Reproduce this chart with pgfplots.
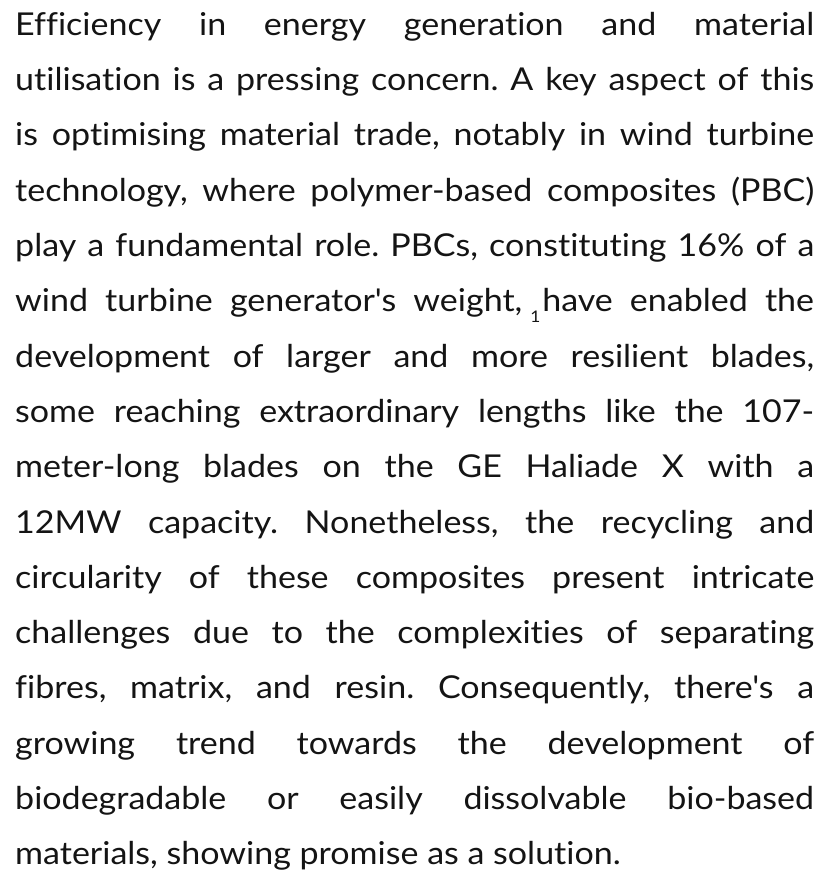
\documentclass[border=0pt]{standalone}
\usepackage{pgfplots}
\pgfplotsset{compat=1.18}
\usepackage{fontspec}
\newfontfamily\bodyfont[FakeStretch=1.08,Ligatures={NoCommon,NoRequired,NoContextual}]{Lato}
\begin{document}
\begin{tikzpicture}
\begin{axis}[
  width=829bp, height=881bp, scale only axis,
  xmin=0, xmax=829, ymin=0, ymax=881,
  hide axis,
]
\path[fill=white] (rel axis cs:0,0) rectangle (rel axis cs:1,1);
\node[anchor=north west, inner sep=0pt, text width=799bp, align=justify, text=black!92] at (axis cs:15,869) {%
\bodyfont\fontsize{31.5bp}{55.3bp}\selectfont\frenchspacing
\hyphenpenalty=10000 \exhyphenpenalty=10000 \tolerance=10000 \emergencystretch=50bp
\parfillskip=0pt plus 1fil
Efficiency in energy generation and material\linebreak
utilisation is a pressing concern. A key aspect of this\linebreak
is optimising material trade, notably in wind turbine\linebreak
technology, where polymer-based composites (PBC)\linebreak
play a fundamental role. PBCs, constituting 16\% of a\linebreak
wind turbine generator's weight,\kern8bp\raisebox{-11bp}{\fontsize{16bp}{16bp}\selectfont 1}\kern2bp have enabled the\linebreak
development of larger and more resilient blades,\linebreak
some reaching extraordinary lengths like the 107-\linebreak
meter-long blades on the GE Haliade X with a\linebreak
12MW capacity. Nonetheless, the recycling and\linebreak
circularity of these composites present intricate\linebreak
challenges due to the complexities of separating\linebreak
fibres, matrix, and resin. Consequently, there's a\linebreak
growing trend towards the development of\linebreak
biodegradable or easily dissolvable bio-based\linebreak
materials, showing promise as a solution.\par};
\end{axis}
\end{tikzpicture}
\end{document}
